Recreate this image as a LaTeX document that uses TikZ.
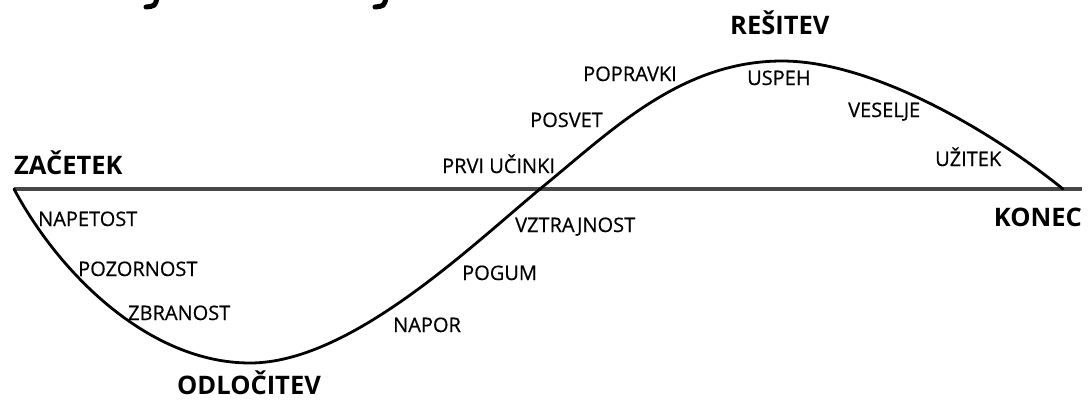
\documentclass[tikz,border=0pt]{standalone}
\usepackage{fontspec}
\setmainfont{Open Sans}
\newfontfamily\phasefont[FakeBold=0.5]{Open Sans}
\begin{document}
\begin{tikzpicture}[x=1pt,y=-1pt,
  phase/.style={anchor=base west,inner sep=0pt,font=\phasefont\fontsize{20}{20}\selectfont},
  stage/.style={anchor=base west,inner sep=0pt,font=\fontsize{25.5}{25.5}\selectfont\bfseries},
  axisline/.style={line width=3.5pt,color=black!72},
  wave/.style={line width=2.8pt,line cap=round}]
\useasboundingbox (0,0) rectangle (1088,400);

% tails of the cut-off heading
\draw[line width=5pt,line cap=round] (157,-2) .. controls (155,6) .. (146,7);
\draw[line width=5pt,line cap=round] (386,-2) .. controls (384,6) .. (375,7);

% time axis
\coordinate (axL) at (14,189);
\coordinate (axR) at (1082,189);
\draw[axisline] (axL) -- (axR);

% key points of the wave
\coordinate (start) at (14,189);
\coordinate (low) at (250,363);
\coordinate (cross) at (540,189);
\coordinate (high) at (782,61);
\coordinate (finish) at (1063,189);
\draw[wave] (start) .. controls (60,275) and (150,363) .. (low)
  .. controls (350,363) and (470,247) .. (cross)
  .. controls (610,132) and (680,61) .. (high)
  .. controls (872,61) and (990,130) .. (finish);

% stage labels
\node[stage] (zac) at (14,174) {ZAČETEK};
\node[stage] (odl) at (177,394) {ODLOČITEV};
\node[stage] (res) at (730,34) {REŠITEV};
\node[stage,anchor=base east] (kon) at (1082,226) {KONEC};

% phase labels
\node[phase] (p1) at (38,226) {NAPETOST};
\node[phase] (p2) at (78,276) {POZORNOST};
\node[phase] (p3) at (128,320) {ZBRANOST};
\node[phase] (p4) at (393,332) {NAPOR};
\node[phase] (p5) at (462,280) {POGUM};
\node[phase] (p6) at (515,232) {VZTRAJNOST};
\node[phase] (p7) at (442,173) {PRVI UČINKI};
\node[phase] (p8) at (530,127) {POSVET};
\node[phase] (p9) at (583,81) {POPRAVKI};
\node[phase] (p10) at (747,85) {USPEH};
\node[phase] (p11) at (848,117) {VESELJE};
\node[phase] (p12) at (935,166) {UŽITEK};
\end{tikzpicture}
\end{document}
